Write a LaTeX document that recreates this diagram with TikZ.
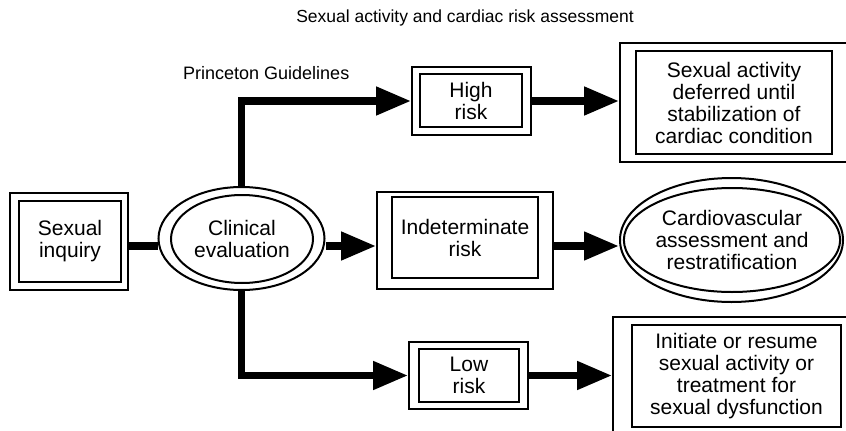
\documentclass[tikz,border=0pt]{standalone}
\usepackage{fontspec}
\setmainfont{Liberation Sans}
\usetikzlibrary{arrows.meta,shapes.geometric}
\begin{document}
\begin{tikzpicture}[x=1pt,y=-1pt,
  boxtext/.style={align=center,font=\fontsize{21}{22}\selectfont,inner sep=0pt},
  inbox/.style={boxtext,draw,line width=2.4pt,rectangle},
  outbox/.style={draw,line width=1.8pt,rectangle,inner sep=0pt},
  inell/.style={boxtext,draw,line width=2pt,ellipse},
  outell/.style={draw,line width=2pt,ellipse,inner sep=0pt},
  conn/.style={line width=7.5pt,line join=miter},
  arr/.style={conn,-{Triangle[length=35pt,width=27pt]}},
  lbl/.style={font=\fontsize{17.5}{20}\selectfont,inner sep=0pt}]
\useasboundingbox (0,0) rectangle (846,431);
\clip (0,0) rectangle (846,431);
\coordinate (mid) at (0,246);
% titles
\node[lbl] (title) at (465,18) {Sexual activity and cardiac risk assessment};
\node[lbl,anchor=west,font=\fontsize{18}{20}\selectfont] (pg) at (183,73) {Princeton Guidelines};
% sexual inquiry
\node[outbox,minimum width=118pt,minimum height=97pt] (inqO) at (69,241.5) {};
\node[inbox,minimum width=102pt,minimum height=81pt] (inq) at (70,241.5) {Sexual\\inquiry};
% clinical evaluation
\node[outell,minimum width=166pt,minimum height=103pt] (clinO) at (241.5,238.5) {};
\node[inell,minimum width=142pt,minimum height=88pt] (clin) at (242,239) {Clinical\\evaluation};
% high risk
\node[outbox,minimum width=119pt,minimum height=68pt] (highO) at (471.5,101) {};
\node[inbox,minimum width=102pt,minimum height=53pt] (high) at (471,100.5) {High\\risk};
% deferred
\node[outbox,minimum width=228pt,minimum height=119pt] (deferO) at (734,102.5) {};
\node[inbox,minimum width=196pt,minimum height=103pt] (defer) at (734,102.5) {Sexual activity\\deferred until\\stabilization of\\cardiac condition};
% indeterminate
\node[outbox,minimum width=176pt,minimum height=97pt] (indetO) at (465,240.5) {};
\node[inbox,minimum width=146pt,minimum height=81pt] (indet) at (465,237.5) {Indeterminate\\risk};
% cardiovascular
\node[outell,minimum width=223pt,minimum height=124pt] (cardO) at (731.5,240) {};
\node[inell,minimum width=192pt,minimum height=104pt] (card) at (732,240) {Cardiovascular\\assessment and\\restratification};
% low risk
\node[outbox,minimum width=119pt,minimum height=67pt] (lowO) at (468.5,375.5) {};
\node[inbox,minimum width=100pt,minimum height=53pt] (low) at (469,375.5) {Low\\risk};
% final
\node[outbox,minimum width=247pt,minimum height=118pt] (finO) at (736.5,376) {};
\node[inbox,minimum width=209pt,minimum height=102pt] (fin) at (736.5,376) {Initiate or resume\\sexual activity or\\treatment for\\sexual dysfunction};
% connectors
\draw[conn] (inqO.east |- mid) -- (clinO.west |- mid);
\draw[arr] (clinO.east |- mid) -- (indetO.west |- mid);
\draw[arr] (indetO.east |- mid) -- (cardO.west |- mid);
\draw[arr] (clinO.north) |- (highO.west);
\draw[arr] (highO.east) -- (highO.east -| deferO.west);
\draw[arr] (clinO.south) |- (lowO.west);
\draw[arr] (lowO.east) -- (lowO.east -| finO.west);
\end{tikzpicture}
\end{document}
